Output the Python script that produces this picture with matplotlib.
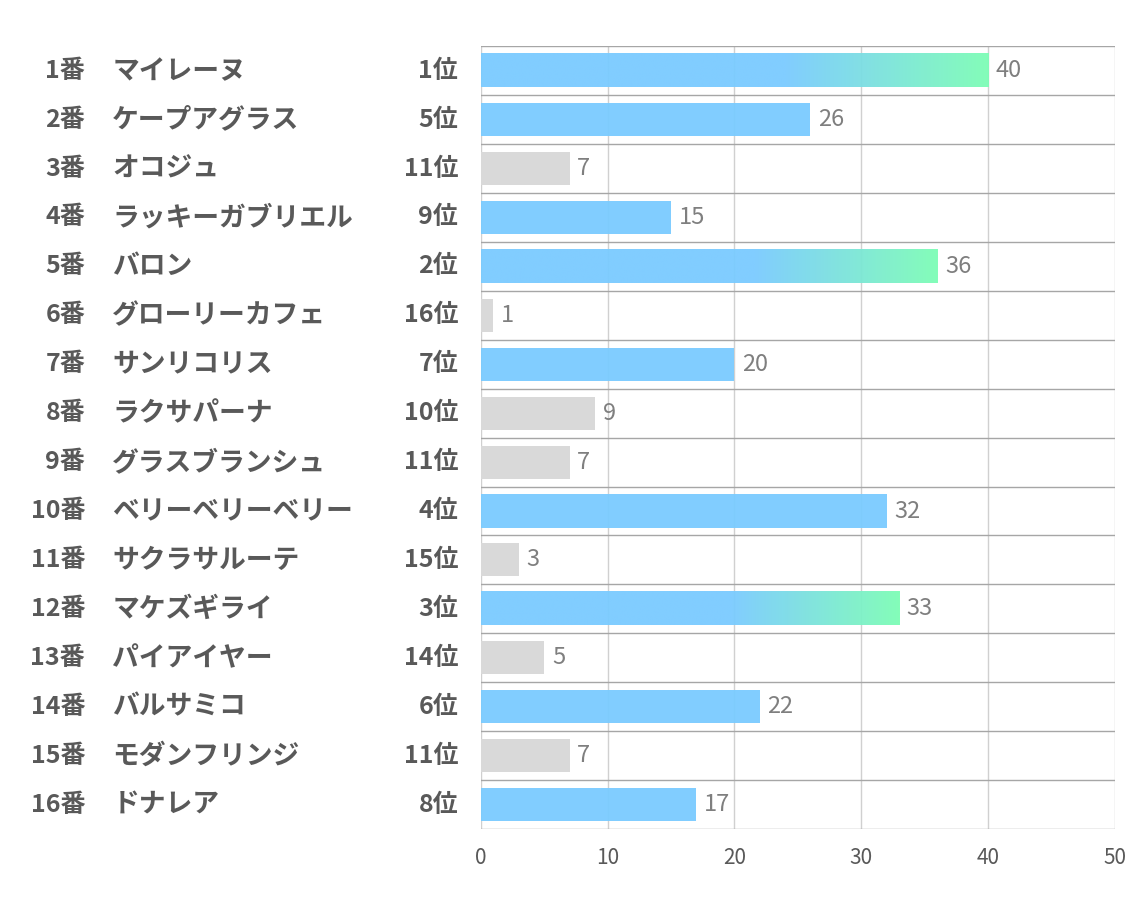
import matplotlib.pyplot as plt
from matplotlib.transforms import blended_transform_factory
from matplotlib.colors import LinearSegmentedColormap
import numpy as np

plt.rcParams['font.family']=['Noto Sans CJK JP','DejaVu Sans']

NUMBERS=[1,2,3,4,5,6,7,8,9,10,11,12,13,14,15,16]
NAMES=['マイレーヌ','ケープアグラス','オコジュ','ラッキーガブリエル','バロン','グローリーカフェ',
       'サンリコリス','ラクサパーナ','グラスブランシュ','ベリーベリーベリー','サクラサルーテ',
       'マケズギライ','パイアイヤー','バルサミコ','モダンフリンジ','ドナレア']
RANKS=[1,5,11,9,2,16,7,10,11,4,15,3,14,6,11,8]
VALUES=[40,26,7,15,36,1,20,9,7,32,3,33,5,22,7,17]
XTICKS=[0,10,20,30,40,50]

BLUE='#7ACBFF'
GREEN='#7DFDB6'
GRAY='#D9D9D9'
TXT='#595959'
grad=LinearSegmentedColormap.from_list('g',[(0,BLUE),(0.6,BLUE),(1,GREEN)])

fig=plt.figure(figsize=(11.34,9.07),dpi=100)
ax=fig.add_axes([0.424,0.086,0.559,0.863])
h=0.675
for i,(v,r) in enumerate(zip(VALUES,RANKS)):
    if r<=3:
        img=np.linspace(0,1,256).reshape(1,-1)
        ax.imshow(img,cmap=grad,extent=(0,v,i+h/2,i-h/2),aspect='auto',alpha=0.95,zorder=2,interpolation='bilinear')
    else:
        ax.barh(i,v,height=h,color=BLUE if r<=9 else GRAY,alpha=0.95 if r<=9 else 1,zorder=2)
    ax.text(v+0.6,i,str(v),va='center',ha='left',fontsize=17,color='#7F7F7F',zorder=3)
ax.set_xlim(0,50)
ax.set_ylim(len(VALUES)-0.5,-0.5)
for x in XTICKS:
    ax.axvline(x,color='#D0D0D0',lw=1,zorder=1)
for k in range(len(VALUES)+1):
    ax.axhline(k-0.5,color='#A6A6A6',lw=1,zorder=1)
for s in ax.spines.values():
    s.set_visible(False)
ax.set_yticks([])
ax.set_xticks(XTICKS)
ax.tick_params(axis='x',length=0,labelsize=15,labelcolor=TXT,pad=13)

tr=blended_transform_factory(fig.transFigure,ax.transData)
for i,(n,name,r) in enumerate(zip(NUMBERS,NAMES,RANKS)):
    fig.text(0.075,i,f'{n}番',transform=tr,ha='right',va='center',fontsize=18,fontweight='bold',color=TXT)
    fig.text(0.099,i,name,transform=tr,ha='left',va='center',fontsize=19.3,fontweight='bold',color=TXT)
    fig.text(0.404,i,f'{r}位',transform=tr,ha='right',va='center',fontsize=18,fontweight='bold',color=TXT)

plt.savefig('out.png',dpi=100,facecolor='white')
plt.close()
